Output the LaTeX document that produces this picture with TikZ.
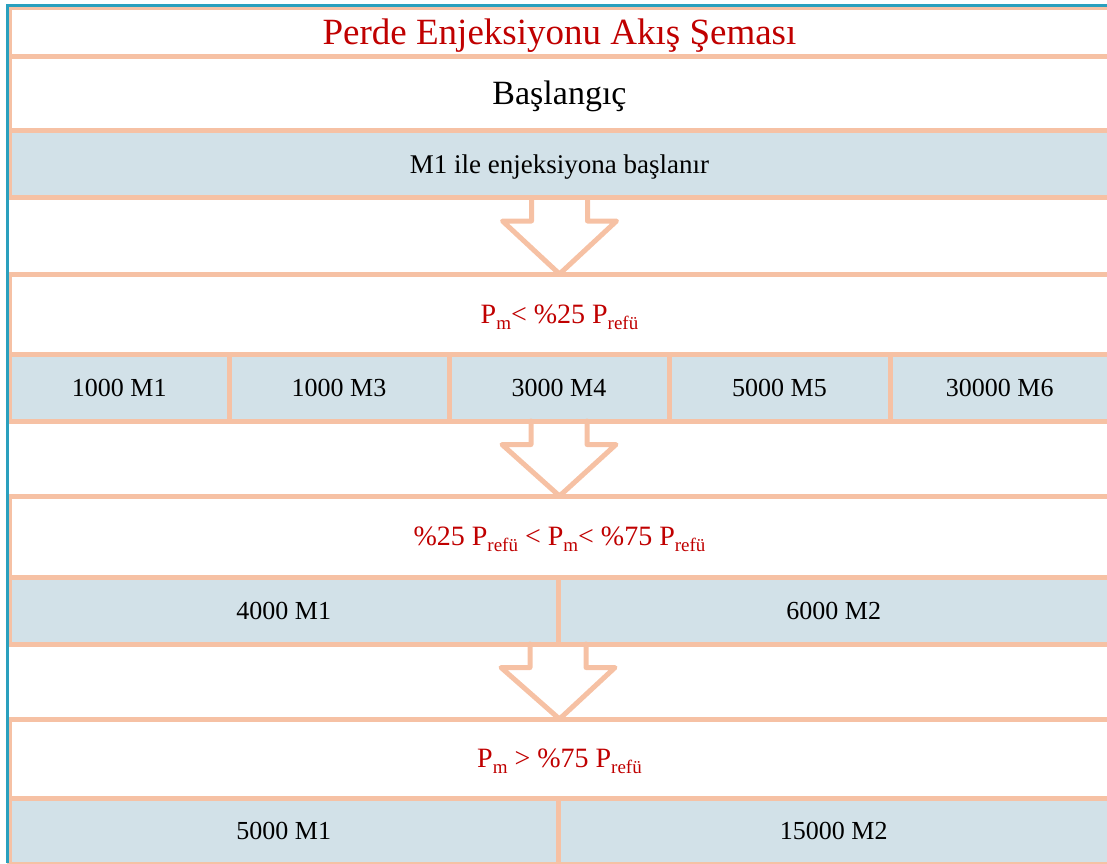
\documentclass[tikz,border=0pt]{standalone}
\usepackage{fontspec}
\setmainfont{Liberation Serif}
\usetikzlibrary{calc}
\definecolor{peach}{RGB}{246,193,164}
\definecolor{cellblue}{RGB}{210,225,232}
\definecolor{frameblue}{RGB}{42,160,190}
\definecolor{condred}{RGB}{192,0,0}
\newcommand\subtxt[1]{\raisebox{-0.22em}{\fontsize{19}{19}\selectfont #1}}
\newcommand\flowarrow[2]{%
  \draw[arrowline] ($(#1)+(-28,0)$) -- ($(#1)+(-28,23.5)$) -- ($(#1)+(-57,23.5)$)
    -- (#2.north) -- ($(#1)+(57,23.5)$) -- ($(#1)+(28,23.5)$) -- ($(#1)+(28,0)$);}
\tikzset{
  rowbox/.style={draw=peach, line width=5pt, inner sep=0pt, outer sep=0pt, anchor=north west, text depth=0pt},
  whitebox/.style={rowbox, fill=white},
  bluebox/.style={rowbox, fill=cellblue, font=\fontsize{26}{30}\selectfont},
  condtext/.style={text=condred, font=\fontsize{28}{32}\selectfont},
  arrowline/.style={draw=peach, line width=5pt, line join=round, line cap=round},
  frameline/.style={draw=frameblue, line width=3pt}
}
\begin{document}
\begin{tikzpicture}[x=1pt,y=-1pt]
\useasboundingbox (0,0) rectangle (1107,863);
% rows
\node[whitebox, minimum width=1100pt, minimum height=48.5pt, text=condred,
      font=\fontsize{37}{40}\selectfont] (title) at (9.5,7.5) {Perde Enjeksiyonu Akış Şeması};
\node[whitebox, minimum width=1100pt, minimum height=74pt,
      font=\fontsize{34}{38}\selectfont] (start) at (9.5,56) {Başlangıç};
\node[bluebox, minimum width=1100pt, minimum height=67.5pt,
      font=\fontsize{27}{30}\selectfont] (b1) at (9.5,130) {M1 ile enjeksiyona başlanır};
% condition 1
\node[whitebox, condtext, minimum width=1100pt, minimum height=80pt] (cond1) at (9.5,274)
  {P\subtxt{m}< \%25 P\subtxt{refü}};
\node[bluebox, minimum width=219.5pt, minimum height=67pt] (c1) at (9.5,354) {1000 M1};
\node[bluebox, minimum width=220pt, minimum height=67pt] (c2) at (229,354) {1000 M3};
\node[bluebox, minimum width=220pt, minimum height=67pt] (c3) at (449,354) {3000 M4};
\node[bluebox, minimum width=221pt, minimum height=67pt] (c4) at (669,354) {5000 M5};
\node[bluebox, minimum width=219.5pt, minimum height=67pt] (c5) at (890,354) {30000 M6};
% condition 2
\node[whitebox, condtext, minimum width=1100pt, minimum height=81pt] (cond2) at (9.5,496)
  {\%25 P\subtxt{refü} < P\subtxt{m}< \%75 P\subtxt{refü}};
\node[bluebox, minimum width=548.5pt, minimum height=67pt] (d1) at (9.5,577) {4000 M1};
\node[bluebox, minimum width=551.5pt, minimum height=67pt] (d2) at (558,577) {6000 M2};
% condition 3
\node[whitebox, condtext, minimum width=1100pt, minimum height=79pt] (cond3) at (9.5,719)
  {P\subtxt{m} > \%75 P\subtxt{refü}};
\node[bluebox, minimum width=548.5pt, minimum height=66pt] (e1) at (9.5,798) {5000 M1};
\node[bluebox, minimum width=551.5pt, minimum height=66pt] (e2) at (558,798) {15000 M2};
% block arrows
\flowarrow{b1.south}{cond1}
\flowarrow{c3.south}{cond2}
\flowarrow{d1.south east}{cond3}
% outer frame
\draw[frameline] (7.5,863) -- (7.5,5) -- (1107,5);
\end{tikzpicture}
\end{document}
